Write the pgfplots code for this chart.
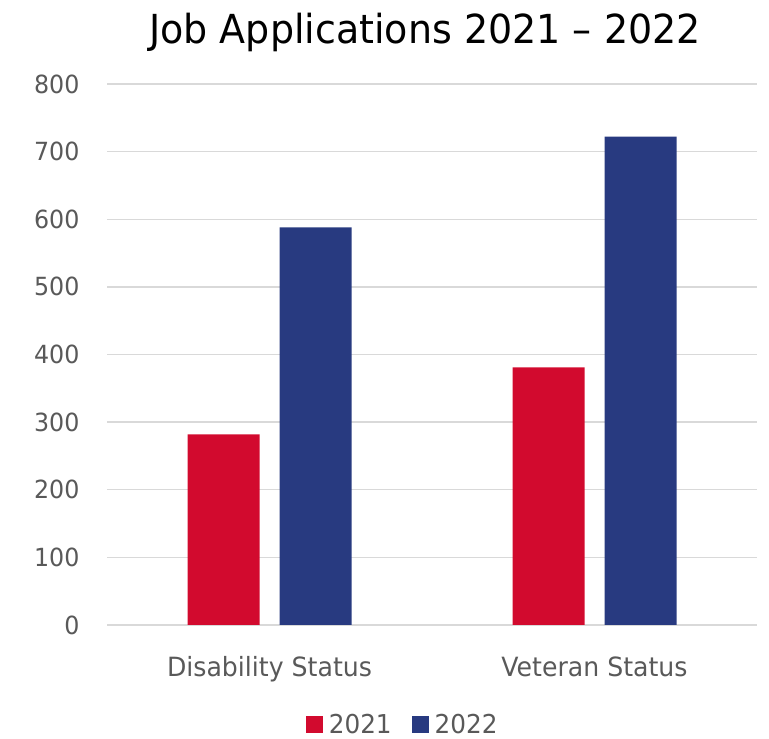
\documentclass[border=0pt]{standalone}
\usepackage{fontspec}
\setmainfont{DejaVu Sans}[FakeStretch=0.95]
\usepackage{pgfplots}
\pgfplotsset{compat=1.18}
\definecolor{cred}{RGB}{210,10,46}
\definecolor{cblue}{RGB}{40,58,128}
\definecolor{ctext}{RGB}{89,89,89}
\definecolor{cgrid}{RGB}{217,217,217}
\begin{document}
\begin{tikzpicture}
\useasboundingbox (0,0) rectangle (769pt,739pt);
\node[anchor=center,font=\fontsize{40}{48}\selectfont,text=black] at (425pt,707pt) {Job Applications 2021 – 2022};
\begin{axis}[
  at={(107pt,114pt)}, anchor=south west,
  scale only axis, width=650pt, height=541pt,
  xmin=-0.5, xmax=1.5, ymin=0, ymax=800,
  ybar, bar width=72pt,
  xtick={0,1}, xticklabels={Disability Status, Veteran Status},
  ytick={0,100,...,800},
  /pgf/number format/assume math mode=true,
  tick label style={font=\fontsize{25}{30}\selectfont, text=ctext},
  xticklabel style={yshift=-28pt, font=\fontsize{26.5}{30}\selectfont},
  yticklabel style={xshift=-24pt},
  major tick length=0pt,
  axis line style={draw=none},
  ymajorgrids, grid style={cgrid, line width=1.3pt},
  legend style={at={(0.458,0)}, anchor=center, yshift=-100pt, draw=none, fill=none,
    legend columns=2, font=\fontsize{26}{30}\selectfont, text=ctext,
    nodes={inner xsep=6pt},
    /tikz/every even column/.append style={column sep=14pt}},
  legend image code/.code={\fill[#1] (0pt,-8.5pt) rectangle (17pt,8.5pt);},
]
\addplot[fill=cred, draw=none, bar shift=-46pt] coordinates {(0,282) (1,381)};
\addplot[fill=cblue, draw=none, bar shift=46pt] coordinates {(0,588) (1,722)};
\legend{2021, 2022}
\end{axis}
\end{tikzpicture}
\end{document}
